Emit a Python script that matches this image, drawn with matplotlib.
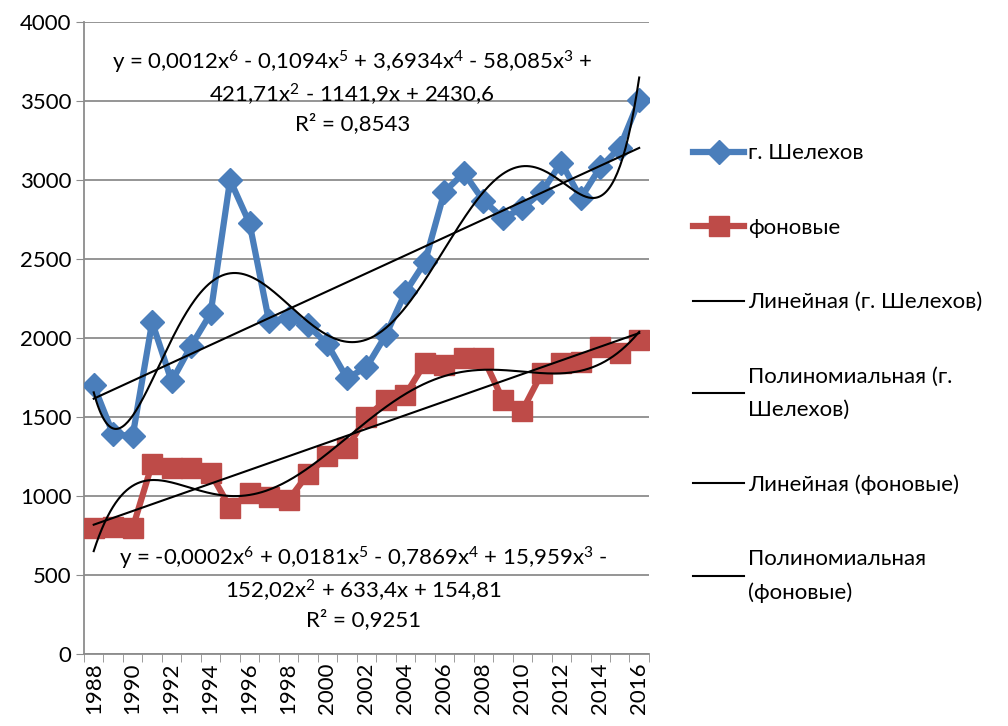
import numpy as np
import matplotlib
matplotlib.use("Agg")
import matplotlib.pyplot as plt

plt.rcParams['font.family'] = ['Lato', 'DejaVu Sans']
plt.rcParams['mathtext.fontset'] = 'custom'
plt.rcParams['mathtext.rm'] = 'Lato'
plt.rcParams['mathtext.it'] = 'Lato'

years = list(range(1988, 2017))
shelekhov = [1700, 1390, 1380, 2100, 1725, 1950, 2155, 3000, 2725, 2105, 2125, 2080, 1960,
             1745, 1815, 2020, 2290, 2480, 2925, 3045, 2870, 2760, 2820, 2925, 3110, 2885,
             3080, 3205, 3505]
fon = [797, 804, 797, 1205, 1175, 1175, 1146, 924, 1019, 994, 975, 1140, 1250,
       1305, 1500, 1605, 1640, 1840, 1830, 1873, 1873, 1610, 1540, 1778, 1840, 1848,
       1943, 1905, 1987]

eq_shel = "y = 0,0012x$^6$ - 0,1094x$^5$ + 3,6934x$^4$ - 58,085x$^3$ +\n421,71x$^2$ - 1141,9x + 2430,6\nR² = 0,8543"
eq_fon = "y = -0,0002x$^6$ + 0,0181x$^5$ - 0,7869x$^4$ + 15,959x$^3$ -\n152,02x$^2$ + 633,4x + 154,81\nR² = 0,9251"

blue = '#4A7EBB'
red = '#BE4B48'

x = np.arange(1, len(years) + 1)
xs = np.linspace(1, len(years), 400)

fig = plt.figure(figsize=(10.08, 7.26), dpi=100)
ax = fig.add_axes([0.0833, 0.0992, 0.5605, 0.8705])

ax.plot(x, shelekhov, color=blue, lw=4.5, marker='D', ms=12, label='г. Шелехов', zorder=3)
ax.plot(x, fon, color=red, lw=4.5, marker='s', ms=14, label='фоновые', zorder=3)

# линии тренда как в Excel (x = 1..n)
lin1 = np.polyfit(x, shelekhov, 1)
pol1 = np.polyfit(x, shelekhov, 6)
lin2 = np.polyfit(x, fon, 1)
pol2 = np.polyfit(x, fon, 6)
ax.plot(xs, np.polyval(lin1, xs), color='black', lw=1.5, label='Линейная (г. Шелехов)', zorder=4)
ax.plot(xs, np.polyval(pol1, xs), color='black', lw=1.5, label='Полиномиальная (г.\nШелехов)', zorder=4)
ax.plot(xs, np.polyval(lin2, xs), color='black', lw=1.5, label='Линейная (фоновые)', zorder=4)
ax.plot(xs, np.polyval(pol2, xs), color='black', lw=1.5, label='Полиномиальная\n(фоновые)', zorder=4)

ax.set_xlim(0.5, len(years) + 0.5)
ax.set_ylim(0, 4000)
ax.set_yticks(range(0, 4001, 500))
ax.yaxis.grid(True, color='#8c8c8c', lw=1.3)
ax.set_axisbelow(True)

ax.set_xticks(x[::2])
ax.set_xticklabels([str(y) for y in years[::2]], rotation=90)
ax.set_xticks(np.arange(0.5, len(years) + 1, 1), minor=True)
ax.tick_params(axis='x', which='both', length=6, color='#8c8c8c', labelsize=16)
ax.tick_params(axis='x', which='major', length=0, pad=6)
ax.tick_params(axis='y', length=6, color='#8c8c8c', labelsize=16, pad=3)

for s in ['top', 'right']:
    ax.spines[s].set_visible(False)
ax.spines['left'].set_color('#8c8c8c')
ax.spines['bottom'].set_color('#8c8c8c')
ax.spines['left'].set_linewidth(1.3)
ax.spines['bottom'].set_linewidth(1.3)

ax.text(0.475, 0.958, eq_shel, transform=ax.transAxes, ha='center', va='top',
        fontsize=16, linespacing=1.3)
ax.text(0.495, 0.173, eq_fon, transform=ax.transAxes, ha='center', va='top',
        fontsize=16, linespacing=1.3)

leg = fig.legend(loc='upper left', bbox_to_anchor=(0.668, 0.83), frameon=False,
                 fontsize=16, handlelength=2.3, handletextpad=0.15, labelspacing=2.45)
for t in leg.get_texts():
    t.set_linespacing(1.8)

fig.savefig('out.png', dpi=100)
